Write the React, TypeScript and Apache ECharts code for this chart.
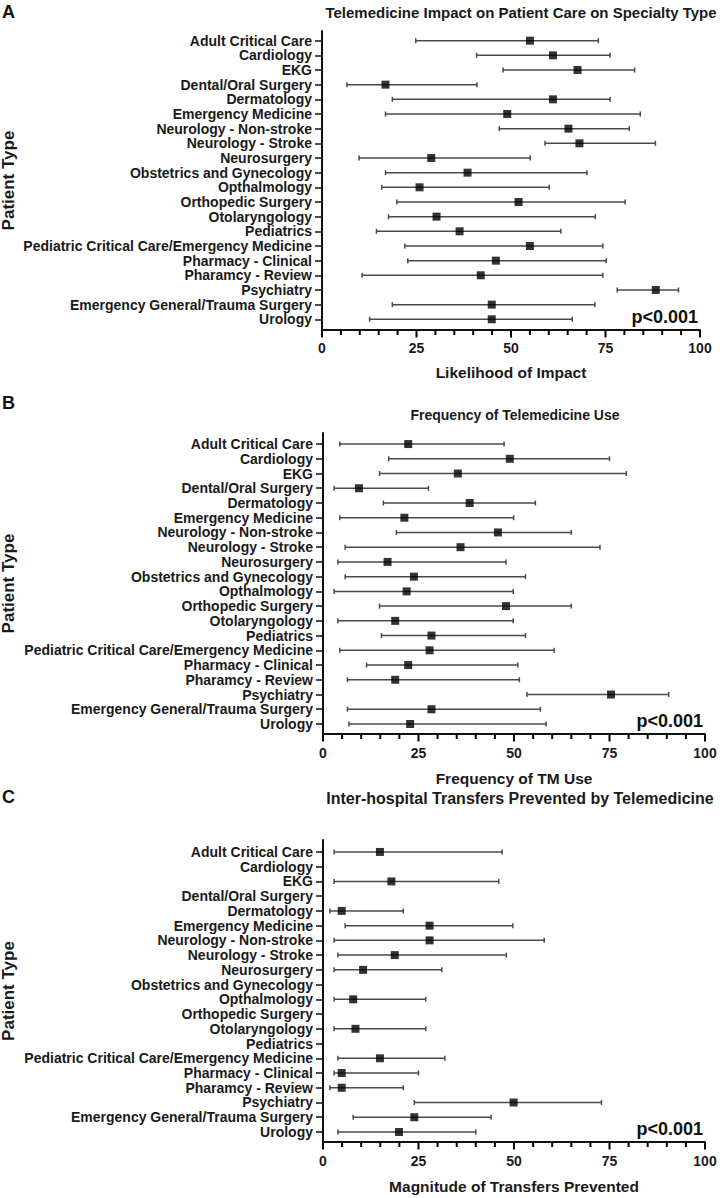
import React, { useEffect, useRef } from "react";
import * as echarts from "echarts";

const categories = [
  "Adult Critical Care",
  "Cardiology",
  "EKG",
  "Dental/Oral Surgery",
  "Dermatology",
  "Emergency Medicine",
  "Neurology - Non-stroke",
  "Neurology - Stroke",
  "Neurosurgery",
  "Obstetrics and Gynecology",
  "Opthalmology",
  "Orthopedic Surgery",
  "Otolaryngology",
  "Pediatrics",
  "Pediatric Critical Care/Emergency Medicine",
  "Pharmacy - Clinical",
  "Pharamcy - Review",
  "Psychiatry",
  "Emergency General/Trauma Surgery",
  "Urology",
];

const xTicks = [0, 25, 50, 75, 100];
const xMinorTicks = [0, 5, 10, 15, 20, 25, 30, 35, 40, 45, 50, 55, 60, 65, 70, 75, 80, 85, 90, 95, 100];

// Panel A: Likelihood of Impact
const impactMean = [55.0, 61.1, 67.6, 16.8, 61.1, 49.0, 65.2, 68.1, 28.9, 38.5, 25.8, 52.0, 30.3, 36.4, 55.0, 46.0, 42.0, 88.3, 44.9, 44.9];
const impactLow = [24.8, 40.9, 47.9, 6.6, 18.6, 16.8, 46.9, 59.0, 9.8, 16.8, 15.8, 19.8, 17.6, 14.4, 21.9, 22.7, 10.6, 78.1, 18.6, 12.6];
const impactHigh = [73.1, 76.2, 82.7, 41.0, 76.2, 84.2, 81.3, 88.2, 55.1, 70.1, 60.1, 80.2, 72.3, 63.2, 74.3, 75.2, 74.3, 94.3, 72.2, 66.2];

// Panel B: Frequency of TM Use
const freqMean = [22.3, 48.9, 35.3, 9.4, 38.4, 21.3, 45.8, 36.0, 16.9, 23.8, 21.9, 47.9, 18.9, 28.4, 27.9, 22.3, 18.9, 75.4, 28.4, 22.8];
const freqLow = [4.4, 17.2, 14.8, 2.9, 15.8, 4.4, 19.2, 5.8, 3.9, 5.8, 2.9, 14.8, 3.9, 15.3, 4.4, 11.4, 6.4, 53.4, 6.4, 6.8];
const freqHigh = [47.4, 75.0, 79.4, 27.6, 55.6, 49.9, 65.0, 72.5, 47.9, 53.0, 49.8, 65.0, 49.8, 53.0, 60.5, 51.0, 51.4, 90.5, 56.9, 58.4];

// Panel C: Magnitude of Transfers Prevented
const transMean = [14.9, null, 17.9, null, 4.9, 27.9, 27.9, 18.8, 10.5, null, 7.9, null, 8.5, null, 14.9, 4.9, 4.9, 49.9, 23.9, 19.9];
const transLow = [2.9, null, 2.9, null, 1.8, 5.8, 2.9, 3.9, 2.9, null, 2.9, null, 2.9, null, 3.9, 2.9, 1.8, 23.9, 7.9, 3.9];
const transHigh = [46.9, null, 46.0, null, 21.0, 49.7, 57.9, 48.0, 31.1, null, 26.9, null, 26.9, null, 31.9, 25.0, 21.0, 72.9, 44.0, 40.0];

const panelTitles = [
  "Telemedicine Impact on Patient Care on Specialty Type",
  "Frequency of Telemedicine Use",
  "Inter-hospital Transfers Prevented by Telemedicine",
];
const xAxisNames = ["Likelihood of Impact", "Frequency of TM Use", "Magnitude of Transfers Prevented"];
const panelLetters = ["A", "B", "C"];
const pText = "p<0.001";

const FONT = "'Liberation Sans', Arial, Helvetica, sans-serif";

export default function App() {
  const ref = useRef<HTMLDivElement>(null);

  useEffect(() => {
    if (!ref.current) return;
    const chart = echarts.init(ref.current, undefined, { renderer: "svg" });

    const panels = [
      { mean: impactMean, low: impactLow, high: impactHigh, grid: { left: 322, top: 31, width: 378, height: 299 }, ymin: -0.66, ymax: 19.73, nameGap: 34, labelMargin: 11, titleX: 521, titleY: 12, titleSize: 15, letterY: 12 },
      { mean: freqMean, low: freqLow, high: freqHigh, grid: { left: 323, top: 433, width: 382, height: 301 }, ymin: -0.75, ymax: 19.68, nameGap: 36, labelMargin: 12, titleX: 515, titleY: 415, titleSize: 14, letterY: 403 },
      { mean: transMean, low: transLow, high: transHigh, grid: { left: 323, top: 840, width: 382, height: 302 }, ymin: -0.81, ymax: 19.68, nameGap: 36, labelMargin: 12, titleX: 520, titleY: 798, titleSize: 16, letterY: 797 },
    ];

    const idxList = categories.map((_, i) => i);

    const grids: any[] = [];
    const xAxes: any[] = [];
    const yAxes: any[] = [];
    const series: any[] = [];
    const graphics: any[] = [];

    panels.forEach((p, k) => {
      grids.push({ left: p.grid.left, top: p.grid.top, width: p.grid.width, height: p.grid.height, containLabel: false });
      xAxes.push({
        type: "value",
        gridIndex: k,
        position: "bottom",
        min: 0,
        max: 100,
        interval: 25,
        name: xAxisNames[k],
        nameLocation: "middle",
        nameGap: p.nameGap,
        nameTextStyle: { fontFamily: FONT, fontWeight: "bold", fontSize: 15.5, color: "#1a1a1a" },
        axisLine: { show: true, onZero: false, lineStyle: { color: "#111", width: 2 } },
        axisTick: { show: false },
        axisLabel: { fontFamily: FONT, fontWeight: "bold", fontSize: 14, color: "#1a1a1a", margin: p.labelMargin },
        splitLine: { show: false },
      });
      yAxes.push({
        type: "value",
        gridIndex: k,
        inverse: true,
        min: p.ymin,
        max: p.ymax,
        axisLine: { show: true, onZero: false, lineStyle: { color: "#111", width: 2 } },
        axisTick: { show: true, length: 7, customValues: idxList, lineStyle: { color: "#111", width: 1.5 } },
        axisLabel: {
          show: true,
          customValues: idxList,
          margin: 10,
          fontFamily: FONT,
          fontWeight: "bold",
          fontSize: 14,
          color: "#1a1a1a",
          formatter: (v: number) => categories[Math.round(v)] ?? "",
        },
        splitLine: { show: false },
      });

      const barData: any[] = [];
      const pointData: any[] = [];
      categories.forEach((_, i) => {
        if (p.mean[i] == null) return;
        barData.push([i, p.low[i], p.high[i]]);
        pointData.push([p.mean[i], i]);
      });

      // x-axis tick marks (major every 25, minor every 5)
      series.push({
        type: "custom",
        xAxisIndex: k,
        yAxisIndex: k,
        data: xMinorTicks.map((v) => [v, p.ymax]),
        encode: { x: 0, y: 1 },
        clip: false,
        renderItem: (params: any, api: any) => {
          const v = api.value(0);
          const c = api.coord([v, api.value(1)]);
          const major = xTicks.indexOf(v) >= 0;
          return {
            type: "line",
            shape: { x1: c[0], y1: c[1], x2: c[0], y2: c[1] + (major ? 7.5 : 5) },
            style: { stroke: "#000", lineWidth: 2 },
          };
        },
        silent: true,
        z: 4,
      });

      series.push({
        type: "custom",
        xAxisIndex: k,
        yAxisIndex: k,
        data: barData,
        encode: { x: [1, 2], y: 0 },
        renderItem: (params: any, api: any) => {
          const i = api.value(0);
          const a = api.coord([api.value(1), i]);
          const b = api.coord([api.value(2), i]);
          const st = { stroke: "#4a4a4a", lineWidth: 1.5 };
          return {
            type: "group",
            children: [
              { type: "line", shape: { x1: a[0], y1: a[1], x2: b[0], y2: b[1] }, style: st },
              { type: "line", shape: { x1: a[0], y1: a[1] - 2.5, x2: a[0], y2: a[1] + 2.5 }, style: st },
              { type: "line", shape: { x1: b[0], y1: b[1] - 2.5, x2: b[0], y2: b[1] + 2.5 }, style: st },
            ],
          };
        },
        silent: true,
        z: 2,
      });
      series.push({
        type: "scatter",
        xAxisIndex: k,
        yAxisIndex: k,
        data: pointData,
        symbol: "rect",
        symbolSize: 8,
        itemStyle: { color: "#000" },
        silent: true,
        z: 3,
      });

      graphics.push({
        type: "text",
        left: 2,
        top: p.letterY - 9,
        style: { text: panelLetters[k], font: `bold 18px ${FONT}`, fill: "#111" },
      });
      graphics.push({
        type: "text",
        x: p.titleX,
        y: p.titleY,
        style: { text: panelTitles[k], font: `bold ${p.titleSize}px ${FONT}`, fill: "#1a1a1a", textAlign: "center", textVerticalAlign: "middle" },
      });
      graphics.push({
        type: "text",
        x: 8,
        y: p.grid.top + p.grid.height / 2,
        rotation: Math.PI / 2,
        style: { text: "Patient Type", font: `bold 17px ${FONT}`, fill: "#1a1a1a", textAlign: "center", textVerticalAlign: "middle" },
      });
      graphics.push({
        type: "text",
        x: p.grid.left + p.grid.width - 2,
        y: p.grid.top + p.grid.height - 13,
        style: { text: pText, font: `bold 18px ${FONT}`, fill: "#111", textAlign: "right", textVerticalAlign: "middle" },
      });
    });

    chart.setOption({
      animation: false,
      backgroundColor: "#fff",
      grid: grids,
      xAxis: xAxes,
      yAxis: yAxes,
      series,
      graphic: graphics,
    });

    return () => chart.dispose();
  }, []);

  return <div ref={ref} style={{ position: "fixed", left: 0, top: 0, width: 727, height: 1198 }} />;
}
